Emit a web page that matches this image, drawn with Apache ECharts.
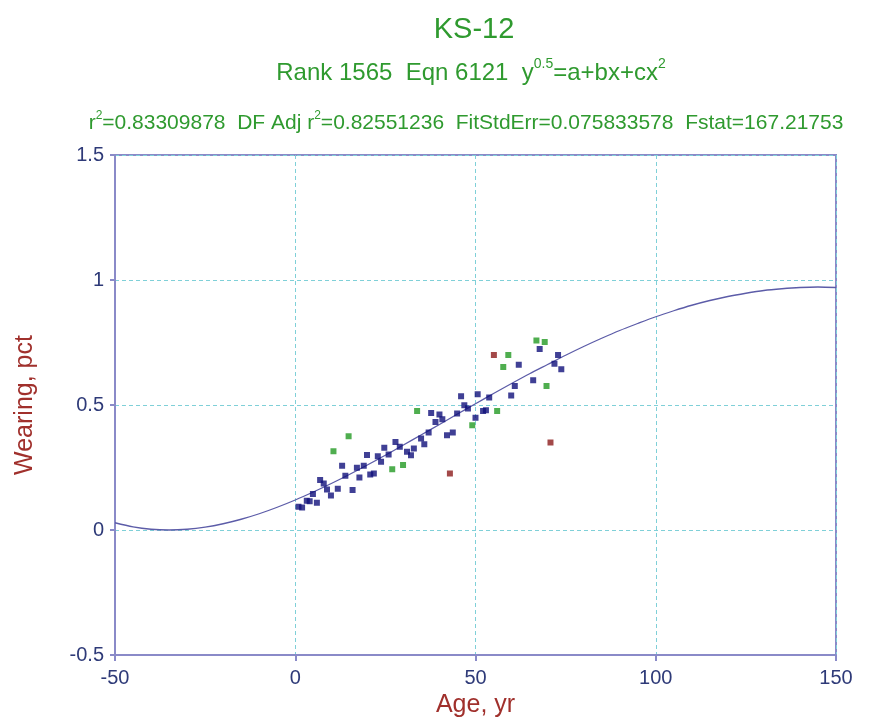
<!DOCTYPE html>
<html>
<head>
<meta charset="utf-8">
<script src="https://cdn.jsdelivr.net/npm/echarts@6/dist/echarts.min.js"></script>
<style>
    html, body {margin: 0; padding: 0; background: #fff;}
    #chart {width: 875px; height: 720px;}
</style>
</head>
<body>
<div id="chart"></div>
<script>
// fitted curve
var curveX = [-50, -45, -40, -35, -30, -25, -20, -15, -10, -5, 0, 5, 10, 15, 20, 25, 30, 35, 40, 45, 50,
    55, 60, 65, 70, 75, 80, 85, 90, 95, 100, 105, 110, 115, 120, 125, 130, 135, 140, 145, 150];
var curveY = [0.029, 0.0125, 0.003, 0.0, 0.003, 0.0114, 0.025, 0.043, 0.065, 0.091, 0.12, 0.152, 0.186,
    0.222, 0.26, 0.299, 0.34, 0.381, 0.422, 0.464, 0.505, 0.546, 0.586, 0.625, 0.662, 0.699, 0.734,
    0.767, 0.798, 0.826, 0.853, 0.877, 0.899, 0.918, 0.934, 0.947, 0.958, 0.965, 0.97, 0.972, 0.97];

// data points (blue = fitted, green / red = outliers)
var blueX = [0.9, 1.9, 3.2, 4.0, 4.9, 6.0, 6.9, 7.9, 8.8, 9.9, 11.8, 13.0, 13.9, 15.9, 17.1, 17.8, 19.0,
    19.9, 20.8, 21.8, 22.9, 23.8, 24.7, 25.9, 27.8, 29.0, 31.0, 32.1, 32.9, 34.9, 35.8, 37.0, 37.7,
    38.9, 40.0, 40.8, 42.1, 43.7, 44.9, 46.0, 46.9, 47.9, 50.6, 50.0, 52.1, 52.9, 53.8, 59.9, 60.9,
    62.0, 66.0, 67.8, 71.9, 72.9, 73.8];
var blueY = [0.093, 0.09, 0.117, 0.115, 0.144, 0.109, 0.2, 0.186, 0.162, 0.138, 0.165, 0.257, 0.217,
    0.16, 0.249, 0.21, 0.257, 0.3, 0.222, 0.226, 0.295, 0.273, 0.329, 0.302, 0.352, 0.333, 0.313,
    0.299, 0.326, 0.366, 0.343, 0.39, 0.468, 0.432, 0.462, 0.443, 0.379, 0.39, 0.466, 0.535, 0.499,
    0.486, 0.543, 0.449, 0.476, 0.479, 0.53, 0.538, 0.576, 0.661, 0.599, 0.724, 0.665, 0.7, 0.643];
var greenX = [10.6, 14.8, 26.9, 29.9, 33.8, 49.1, 56.0, 57.7, 59.1, 66.9, 69.2, 69.7];
var greenY = [0.315, 0.375, 0.243, 0.26, 0.476, 0.419, 0.476, 0.652, 0.7, 0.758, 0.752, 0.576];
var redX = [42.9, 55.1, 70.8];
var redY = [0.226, 0.7, 0.35];

var xTicks = {min: -50, max: 150, interval: 50};
var yTicks = {min: -0.5, max: 1.5, interval: 0.5};

function pairs(xs, ys) {
    var out = [];
    for (var i = 0; i < xs.length; i++) out.push([xs[i], ys[i]]);
    return out;
}

var green = '#2f9a2f';
var darkRed = '#a0302c';
var frame = '#8a8ac8';
var tickText = '#2e3a78';
var gridLine = '#7fd0d8';
var font = 'Liberation Sans';

var option = {
    backgroundColor: '#fff',
    animation: false,
    title: [
        {
            text: 'KS-12',
            left: 469, top: 10, textAlign: 'center',
            textStyle: {color: green, fontSize: 29, fontWeight: 'normal', fontFamily: font}
        },
        {
            text: '{n|Rank 1565  Eqn 6121  y}{s|0.5}{n|=a+bx+cx}{s|2}',
            left: 466, top: 52, textAlign: 'center',
            textStyle: {
                fontWeight: 'normal',
                rich: {
                    n: {color: green, fontSize: 24, fontWeight: 'normal', fontFamily: font, lineHeight: 28, verticalAlign: 'bottom'},
                    s: {color: green, fontSize: 14, fontWeight: 'normal', fontFamily: font, lineHeight: 22, verticalAlign: 'top'}
                }
            }
        },
        {
            text: '{n|r}{s|2}{n|=0.83309878  DF Adj r}{s|2}{n|=0.82551236  FitStdErr=0.075833578  Fstat=167.21753}',
            left: 461, top: 105, textAlign: 'center',
            textStyle: {
                fontWeight: 'normal',
                rich: {
                    n: {color: green, fontSize: 21, fontWeight: 'normal', fontFamily: font, lineHeight: 24, verticalAlign: 'bottom'},
                    s: {color: green, fontSize: 12, fontWeight: 'normal', fontFamily: font, lineHeight: 13, verticalAlign: 'top'}
                }
            }
        }
    ],
    grid: {
        left: 115, right: 39, top: 155, bottom: 65,
        outerBoundsMode: 'none',
        show: true, borderColor: frame, borderWidth: 2
    },
    xAxis: {
        type: 'value',
        min: xTicks.min, max: xTicks.max, interval: xTicks.interval,
        name: 'Age, yr', nameLocation: 'middle', nameGap: 37,
        nameTextStyle: {color: darkRed, fontSize: 25, fontFamily: font},
        axisLine: {show: true, onZero: false, lineStyle: {color: frame, width: 2}},
        axisTick: {show: true, length: 6, lineStyle: {color: frame, width: 2}},
        axisLabel: {color: tickText, fontSize: 20, margin: 13, fontFamily: font},
        splitLine: {show: true, lineStyle: {color: gridLine, type: [4, 3], width: 1}}
    },
    yAxis: {
        type: 'value',
        min: yTicks.min, max: yTicks.max, interval: yTicks.interval,
        name: 'Wearing, pct', nameLocation: 'middle', nameGap: 77,
        nameTextStyle: {color: darkRed, fontSize: 25, fontFamily: font},
        axisLine: {show: true, onZero: false, lineStyle: {color: frame, width: 2}},
        axisTick: {show: true, length: 5, lineStyle: {color: frame, width: 2}},
        axisLabel: {color: tickText, fontSize: 20, margin: 11, fontFamily: font},
        splitLine: {show: true, lineStyle: {color: gridLine, type: [4, 3], width: 1}}
    },
    series: [
        {
            name: 'fit',
            type: 'line',
            data: pairs(curveX, curveY),
            showSymbol: false,
            smooth: 0.3,
            lineStyle: {color: '#5c5ca8', width: 1.3},
            z: 3
        },
        {
            name: 'data',
            type: 'scatter',
            data: pairs(blueX, blueY),
            symbol: 'rect', symbolSize: 6,
            itemStyle: {color: '#10107a'},
            z: 4
        },
        {
            name: 'green',
            type: 'scatter',
            data: pairs(greenX, greenY),
            symbol: 'rect', symbolSize: 6,
            itemStyle: {color: '#239a23'},
            z: 4
        },
        {
            name: 'red',
            type: 'scatter',
            data: pairs(redX, redY),
            symbol: 'rect', symbolSize: 6,
            itemStyle: {color: '#8c1c1c'},
            z: 4
        }
    ]
};

var chart = echarts.init(document.getElementById('chart'));
chart.setOption(option);
</script>
</body>
</html>
